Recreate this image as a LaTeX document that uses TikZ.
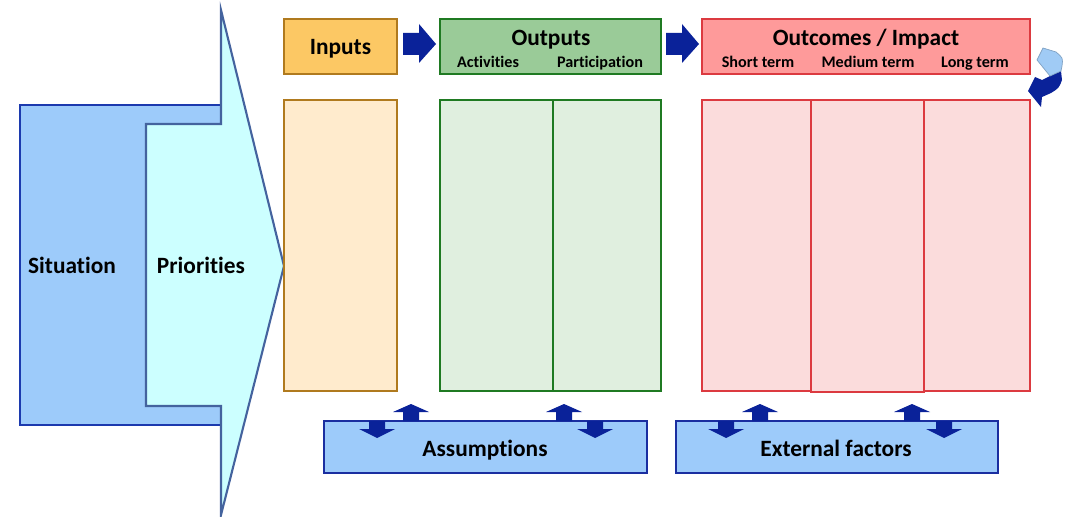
\documentclass[tikz,border=0pt]{standalone}
\usepackage{fontspec}
\setmainfont[Ligatures=NoCommon]{Carlito}
\usetikzlibrary{calc}

\definecolor{sitfill}{HTML}{9DCBFA}
\definecolor{sitline}{HTML}{1C3AAE}
\definecolor{prifill}{HTML}{CCFFFF}
\definecolor{priline}{HTML}{44639E}
\definecolor{inhead}{HTML}{FCC864}
\definecolor{inbody}{HTML}{FFEBCD}
\definecolor{inline}{HTML}{B07A1E}
\definecolor{grhead}{HTML}{9ACB98}
\definecolor{grbody}{HTML}{E0EFDF}
\definecolor{grline}{HTML}{1F7A22}
\definecolor{ochead}{HTML}{FE9A9A}
\definecolor{ocbody}{HTML}{FBDCDC}
\definecolor{ocline}{HTML}{DC3A40}
\definecolor{boxfill}{HTML}{9DCBFA}
\definecolor{boxline}{HTML}{1A2EA0}
\definecolor{arrowblue}{HTML}{0A2299}
\definecolor{twistfill}{HTML}{A0CBF5}

\begin{document}
\begin{tikzpicture}[x=0.02cm,y=-0.02cm,line width=1.2pt,
box/.style={draw,inner sep=0pt},
big/.style={font=\fontsize{13.3}{16}\selectfont\bfseries,text height=1.45ex,text depth=0.35ex,yshift=-0.06cm},
small/.style={font=\fontsize{9.2}{11}\selectfont\bfseries,text height=1.45ex,text depth=0.35ex,yshift=-0.03cm}]

\useasboundingbox (0,0) rectangle (1066,517);

% Situation and priorities
\node[box,fill=sitfill,draw=sitline,minimum width=4.02cm,minimum height=6.4cm] (situation) at (120.5,265) {};
\filldraw[fill=prifill,draw=priline] (146,124) -- (221,124) -- (221,10) -- (284,266) -- (221,515) -- (221,406) -- (146,406) -- cycle;
\node[big] (sittext) at (72,266) {Situation};
\node[big] (pritext) at (201,266) {Priorities};

% Inputs
\node[box,fill=inhead,draw=inline,minimum width=2.26cm,minimum height=1.1cm] (inputs) at (340.5,46.5) {};
\node[big] (intext) at (340.5,47) {Inputs};
\node[box,fill=inbody,draw=inline,minimum width=2.26cm,minimum height=5.82cm] (inbody) at (340.5,245.5) {};

% Outputs
\node[box,fill=grhead,draw=grline,minimum width=4.42cm,minimum height=1.1cm] (outputs) at (550.5,46.5) {};
\node[big] (outtitle) at (551,38) {Outputs};
\node[small] (activities) at (488,61) {Activities};
\node[small] (participation) at (600,61) {Participation};
\node[box,fill=grbody,draw=grline,minimum width=2.26cm,minimum height=5.82cm] (actbody) at (496.5,245.5) {};
\node[box,fill=grbody,draw=grline,minimum width=2.16cm,minimum height=5.82cm] (partbody) at (607,245.5) {};

% Outcomes
\node[box,fill=ochead,draw=ocline,minimum width=6.56cm,minimum height=1.1cm] (outcomes) at (866,46.5) {};
\node[big] (octitle) at (866,38) {Outcomes / Impact};
\node[small] (short) at (758,61) {Short term};
\node[small] (medium) at (868,61) {Medium term};
\node[small] (long) at (975,61) {Long term};
\node[box,fill=ocbody,draw=ocline,minimum width=2.18cm,minimum height=5.82cm] (shortbody) at (756.5,245.5) {};
\node[box,fill=ocbody,draw=ocline,minimum width=2.12cm,minimum height=5.82cm] (longbody) at (977,245.5) {};
\node[box,fill=ocbody,draw=ocline,minimum width=2.26cm,minimum height=5.84cm] (mediumbody) at (867.5,246) {};

% Block arrows
\foreach \x in {403,666}
{
\fill[arrowblue] (\x,33) -- ++(16,0) -- ++(0,-9) -- ++(17,20) -- ++(-17,19) -- ++(0,-8) -- ++(-16,0) -- cycle;
}

% Turning arrow
\fill[arrowblue] (1028,91) -- (1035,77) -- (1042,80) -- (1050,76) .. controls (1056,74) .. (1061,71) -- (1062,80) .. controls (1059,88) .. (1051,93) -- (1042,97) -- (1041,107) -- cycle;
\filldraw[fill=twistfill,draw=twistfill!80!black,line width=0.4pt] (1037,60) -- (1043,48) -- (1056,52) .. controls (1063,58) .. (1062,66) -- (1061,71) .. controls (1056,74) .. (1050,76) -- cycle;

% Assumptions and external factors
\node[box,fill=boxfill,draw=boxline,minimum width=6.46cm,minimum height=1.04cm] (assumptions) at (485.5,447) {};
\node[box,fill=boxfill,draw=boxline,minimum width=6.44cm,minimum height=1.04cm] (external) at (837,447) {};
\node[big] (asstext) at (485,449) {Assumptions};
\node[big] (exttext) at (836,449) {External factors};

% Small arrows
\foreach \x in {411,564,760,912}
{
\fill[arrowblue] (\x-8,421) -- (\x-8,412) -- (\x-18,412) -- (\x,404) -- (\x+18,412) -- (\x+8,412) -- (\x+8,421) -- cycle;
}
\foreach \x in {377,595,726,944}
{
\fill[arrowblue] (\x-8,421) -- (\x-8,429) -- (\x-18,429) -- (\x,438) -- (\x+18,429) -- (\x+8,429) -- (\x+8,421) -- cycle;
}

\end{tikzpicture}
\end{document}
